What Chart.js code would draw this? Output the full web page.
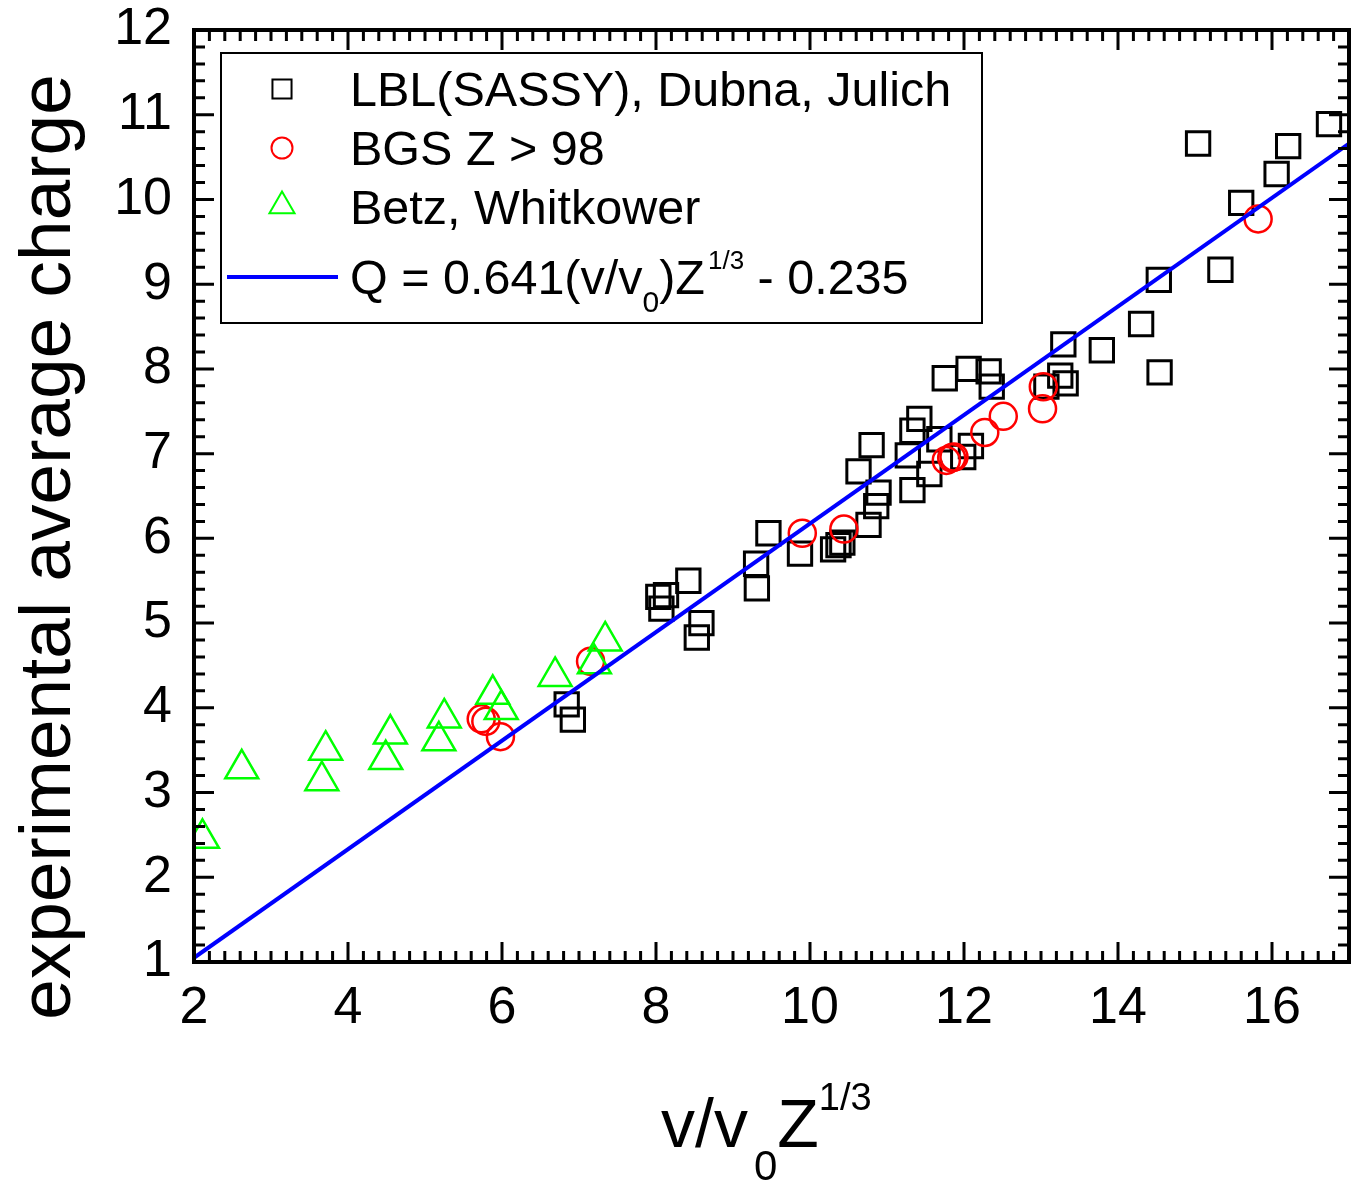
<!DOCTYPE html>
<html>
<head>
<meta charset="utf-8">
<script src="https://cdn.jsdelivr.net/npm/chart.js@4.4.1/dist/chart.umd.min.js"></script>
<style>
  html, body { margin: 0; padding: 0; background: #fff; }
  #wrap { width: 1351px; height: 1181px; }
</style>
</head>
<body>
<div id="wrap"><canvas id="myChart" width="1351" height="1181"></canvas></div>
<script>
const FONT = "'Liberation Sans', Arial, Helvetica, sans-serif";

// LBL(SASSY), Dubna, Julich (black squares)
const lblX = [6.84, 6.92, 8.03, 8.13, 8.07, 8.42, 8.59, 8.53, 9.30, 9.31, 9.46, 9.87,
  10.30, 10.37, 10.42, 10.76, 10.86, 10.89, 10.63, 10.80, 11.33, 11.55, 11.27, 11.33,
  11.42, 11.68, 11.75, 12.06, 12.32, 12.36, 12.09, 11.99, 13.29, 13.25, 13.32, 13.07,
  13.79, 15.04, 16.21, 16.06, 16.74, 15.60, 15.33, 14.53, 14.30, 14.54];
const lblY = [4.04, 3.86, 5.31, 5.33, 5.17, 5.50, 5.00, 4.83, 5.70, 5.41, 6.06, 5.82,
  5.87, 5.92, 5.95, 6.16, 6.38, 6.54, 6.79, 7.10, 6.57, 6.76, 6.98, 7.27,
  7.41, 7.17, 7.89, 8.00, 7.97, 7.79, 7.09, 6.96, 8.29, 7.92, 7.83, 7.79,
  8.22, 10.66, 10.63, 10.30, 10.89, 9.96, 9.17, 9.05, 8.53, 7.96];

// BGS Z > 98 (red circles)
const bgsX = [5.73, 5.79, 5.98, 7.15, 9.90, 10.44, 11.77, 11.84, 11.87, 12.27, 12.51, 13.02, 13.03, 15.82];
const bgsY = [3.87, 3.84, 3.66, 4.55, 6.06, 6.11, 6.92, 6.95, 6.96, 7.25, 7.44, 7.53, 7.79, 9.77];

// Betz, Whitkower (green triangles)
const betzX = [2.11, 2.62, 3.71, 3.66, 4.55, 4.49, 5.25, 5.18, 5.88, 5.99, 6.69, 7.34, 7.20];
const betzY = [2.46, 3.28, 3.50, 3.14, 3.69, 3.39, 3.88, 3.61, 4.16, 3.98, 4.37, 4.79, 4.52];

// fit line, end points
const fitX = [2, 17];
const fitY = [1.05, 10.66];

const xTicks = [2, 4, 6, 8, 10, 12, 14, 16];
const yTicks = [1, 2, 3, 4, 5, 6, 7, 8, 9, 10, 11, 12];

const seriesLabels = ["LBL(SASSY), Dubna, Julich", "BGS Z > 98", "Betz, Whitkower"];

function pts(xs, ys) {
  return xs.map((v, i) => ({ x: v, y: ys[i] }));
}

// inside ticks on all four sides plus the frame
const frameTicks = {
  id: "frameTicks",
  afterDatasetsDraw(chart) {
    const { ctx, chartArea: a, scales: { x, y } } = chart;
    ctx.save();
    ctx.strokeStyle = "#000";
    ctx.lineWidth = 3;
    ctx.beginPath();
    for (let i = 0; i <= 75; i++) {
      const px = x.getPixelForValue(2 + i * 0.2);
      const len = i % 10 === 0 ? 20 : 11;
      ctx.moveTo(px, a.bottom); ctx.lineTo(px, a.bottom - len);
      ctx.moveTo(px, a.top); ctx.lineTo(px, a.top + len);
    }
    for (let i = 0; i <= 55; i++) {
      const py = y.getPixelForValue(1 + i * 0.2);
      const len = i % 5 === 0 ? 20 : 11;
      ctx.moveTo(a.left, py); ctx.lineTo(a.left + len, py);
      ctx.moveTo(a.right, py); ctx.lineTo(a.right - len, py);
    }
    ctx.stroke();
    ctx.lineWidth = 4;
    ctx.strokeRect(a.left, a.top, a.right - a.left, a.bottom - a.top);
    ctx.restore();
  }
};

function drawRuns(ctx, x, runs) {
  // runs: [text, size, baseline y, gap before]
  runs.forEach(([t, size, by, gap]) => {
    x += gap || 0;
    ctx.font = size + "px " + FONT;
    ctx.fillText(t, x, by);
    x += ctx.measureText(t).width;
  });
}

function marker(ctx, style, cx, cy, r, color, lw) {
  ctx.save();
  ctx.strokeStyle = color;
  ctx.lineWidth = lw;
  ctx.beginPath();
  if (style === "rect") {
    const s = r * Math.SQRT1_2;
    ctx.rect(cx - s, cy - s, 2 * s, 2 * s);
  } else if (style === "circle") {
    ctx.arc(cx, cy, r, 0, Math.PI * 2);
  } else {
    for (let k = 0; k < 3; k++) {
      const ang = k * 2 * Math.PI / 3;
      const px = cx + Math.sin(ang) * r, py = cy - Math.cos(ang) * r;
      if (k === 0) ctx.moveTo(px, py); else ctx.lineTo(px, py);
    }
    ctx.closePath();
  }
  ctx.stroke();
  ctx.restore();
}

const boxLegend = {
  id: "boxLegend",
  afterDraw(chart) {
    const ctx = chart.ctx;
    ctx.save();
    ctx.fillStyle = "#fff";
    ctx.fillRect(221, 53, 761, 270);
    ctx.strokeStyle = "#000";
    ctx.lineWidth = 2;
    ctx.strokeRect(221, 53, 761, 270);

    marker(ctx, "rect", 282, 89, 13.5, "#000", 2);
    marker(ctx, "circle", 282, 148, 10.5, "#ff0000", 2);
    marker(ctx, "triangle", 282, 206, 14.5, "#00ff00", 2);
    ctx.strokeStyle = "#0000ff";
    ctx.lineWidth = 4;
    ctx.beginPath();
    ctx.moveTo(227, 277); ctx.lineTo(338, 277);
    ctx.stroke();

    ctx.fillStyle = "#000";
    ctx.textAlign = "left";
    ctx.textBaseline = "alphabetic";
    ctx.font = "48.5px " + FONT;
    ctx.fillText(seriesLabels[0], 350, 106);
    ctx.fillText(seriesLabels[1], 350, 165);
    ctx.fillText(seriesLabels[2], 350, 224);
    drawRuns(ctx, 350, [
      ["Q = 0.641(v/v", 48.5, 294],
      ["0", 30, 312],
      [")Z", 48.5, 294],
      ["1/3", 26, 269, 3],
      [" - 0.235", 48.5, 294]
    ]);

    // axis titles
    drawRuns(ctx, 661, [
      ["v/v", 68, 1147],
      ["0", 42, 1180, 6],
      ["Z", 68, 1147],
      ["1/3", 38, 1110]
    ]);
    ctx.translate(70, 547);
    ctx.rotate(-Math.PI / 2);
    ctx.textAlign = "center";
    ctx.font = "73px " + FONT;
    ctx.fillText("experimental average charge", 0, 0);
    ctx.restore();
  }
};

new Chart(document.getElementById("myChart"), {
  type: "scatter",
  data: {
    datasets: [
      {
        label: seriesLabels[0],
        data: pts(lblX, lblY),
        pointStyle: "rect",
        pointRadius: 16.5,
        pointHoverRadius: 16.5,
        borderColor: "#000",
        backgroundColor: "rgba(0,0,0,0)",
        pointBorderWidth: 3,
        clip: 0,
        order: 4
      },
      {
        label: seriesLabels[1],
        data: pts(bgsX, bgsY),
        pointStyle: "circle",
        pointRadius: 13.5,
        pointHoverRadius: 13.5,
        borderColor: "#ff0000",
        backgroundColor: "rgba(0,0,0,0)",
        pointBorderWidth: 2.5,
        clip: 0,
        order: 3
      },
      {
        label: seriesLabels[2],
        data: pts(betzX, betzY),
        pointStyle: "triangle",
        pointRadius: 19,
        pointHoverRadius: 19,
        borderColor: "#00ff00",
        backgroundColor: "rgba(0,0,0,0)",
        pointBorderWidth: 2.5,
        clip: 0,
        order: 2
      },
      {
        label: "Q = 0.641(v/v0)Z^1/3 - 0.235",
        data: pts(fitX, fitY),
        showLine: true,
        borderColor: "#0000ff",
        borderWidth: 4,
        pointRadius: 0,
        pointHoverRadius: 0,
        clip: 0,
        order: 1
      }
    ]
  },
  options: {
    responsive: false,
    animation: false,
    devicePixelRatio: 1,
    layout: { autoPadding: false, padding: { top: 30, right: 2, left: 0, bottom: 0 } },
    plugins: {
      legend: { display: false },
      tooltip: { enabled: false }
    },
    scales: {
      x: {
        type: "linear",
        min: 2,
        max: 17,
        grid: { display: false, drawTicks: false },
        border: { display: false },
        ticks: {
          stepSize: 2,
          includeBounds: false,
          autoSkip: false,
          maxRotation: 0,
          padding: 15,
          color: "#000",
          font: { family: FONT, size: 52 },
          callback: (v) => (xTicks.includes(v) ? String(v) : "")
        },
        afterFit: (s) => {
          s.height = 219;
          s.paddingLeft = 0;
          s.paddingRight = 0;
        }
      },
      y: {
        type: "linear",
        min: 1,
        max: 12,
        grid: { display: false, drawTicks: false },
        border: { display: false },
        ticks: {
          stepSize: 1,
          autoSkip: false,
          padding: 22,
          color: "#000",
          font: { family: FONT, size: 52 },
          callback: (v) => (yTicks.includes(v) ? String(v) : "")
        },
        afterFit: (s) => {
          s.width = 194;
          s.paddingTop = 0;
          s.paddingBottom = 0;
        }
      }
    }
  },
  plugins: [frameTicks, boxLegend]
});
</script>
</body>
</html>
